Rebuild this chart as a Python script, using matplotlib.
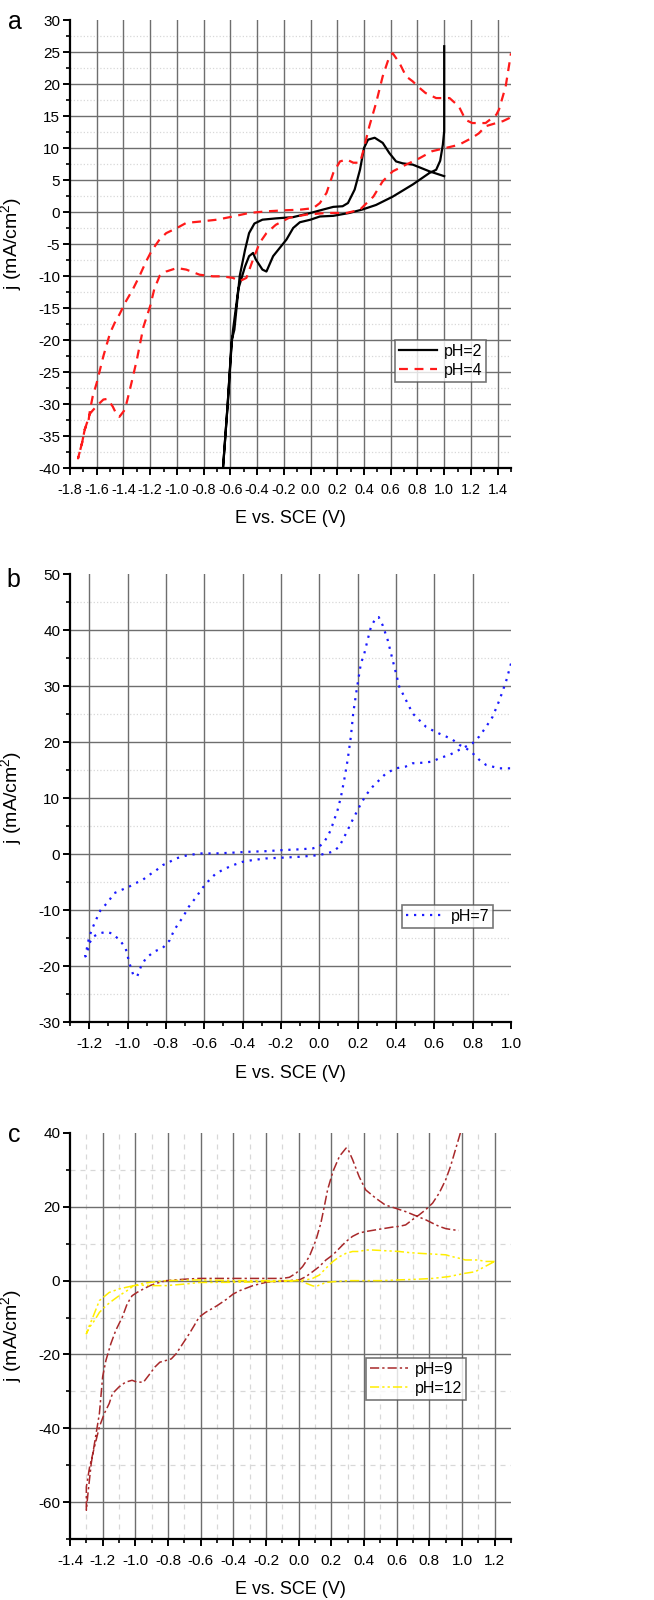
import matplotlib
matplotlib.use("Agg")
import matplotlib.pyplot as plt
import numpy as np
from matplotlib.ticker import MultipleLocator, FormatStrFormatter

plt.rcParams['font.family'] = ['Liberation Sans', 'DejaVu Sans']
plt.rcParams['mathtext.fontset'] = 'custom'
plt.rcParams['mathtext.rm'] = 'Liberation Sans'
plt.rcParams['mathtext.it'] = 'Liberation Sans:italic'

# ---------------- data ----------------
# Panel a, pH=2 (one continuous CV loop)
ph2_E = [1.0, 0.89, 0.765, 0.69, 0.64, 0.59, 0.54, 0.48, 0.43, 0.40, 0.37, 0.33, 0.28, 0.24,
         0.17, 0.09, 0.0, -0.13, -0.26, -0.36, -0.42, -0.46, -0.49, -0.53, -0.57, -0.59,
         -0.62, -0.655, -0.62, -0.59, -0.58, -0.54, -0.49, -0.46, -0.43, -0.41, -0.36, -0.33,
         -0.28, -0.18, -0.13, -0.08, 0.0, 0.07, 0.17, 0.29, 0.39, 0.49, 0.615, 0.765, 0.89,
         0.94, 0.97, 0.99, 1.0, 1.0]
ph2_j = [5.6, 6.35, 7.4, 7.6, 7.9, 9.2, 10.8, 11.6, 11.3, 10.0, 6.6, 3.5, 1.4, 0.9,
         0.8, 0.36, -0.15, -0.8, -1.0, -1.2, -1.8, -3.3, -5.9, -10.0, -18.4, -20.0,
         -30.0, -40.0, -30.0, -20.5, -18.4, -12.0, -8.5, -6.9, -6.4, -7.4, -9.0, -9.3,
         -6.9, -4.3, -2.5, -1.6, -1.2, -0.7, -0.6, -0.15, 0.4, 1.1, 2.4, 4.3, 6.1,
         6.6, 8.0, 10.5, 12.6, 25.9]

# Panel a, pH=4
ph4_E = [1.49, 1.44, 1.39, 1.31, 1.26, 1.21, 1.11, 1.01, 0.91, 0.815, 0.715, 0.615, 0.54,
         0.47, 0.42, 0.37, 0.27, 0.12, -0.03, -0.16, -0.26, -0.33, -0.38, -0.43, -0.48,
         -0.53, -0.58, -0.66, -0.73, -0.83, -0.93, -1.0, -1.08, -1.13, -1.17, -1.20, -1.25,
         -1.30, -1.34, -1.37, -1.39, -1.43, -1.45, -1.48, -1.52, -1.55, -1.59, -1.63, -1.65,
         -1.69, -1.71, -1.74, -1.71, -1.69, -1.66, -1.65, -1.63, -1.60, -1.55, -1.50, -1.465,
         -1.43, -1.38, -1.33, -1.28, -1.23, -1.19, -1.13, -1.08, -1.0, -0.93, -0.83, -0.70,
         -0.58, -0.46, -0.33, -0.20, -0.08, 0.02, 0.07, 0.12, 0.17, 0.22, 0.27, 0.32, 0.37,
         0.39, 0.44, 0.49, 0.54, 0.59, 0.615, 0.665, 0.715, 0.765, 0.815, 0.86, 0.94, 1.04,
         1.11, 1.16, 1.21, 1.31, 1.39, 1.41, 1.46, 1.50]
ph4_j = [14.7, 14.2, 13.9, 13.4, 12.3, 11.6, 10.5, 10.0, 9.5, 8.4, 7.4, 6.35, 4.8,
         2.4, 1.4, 0.36, -0.15, -0.15, -0.4, -0.9, -2.0, -3.3, -4.8, -7.4, -10.3,
         -10.8, -10.3, -10.05, -10.05, -9.8, -9.0, -8.75, -9.3, -10.0, -12.1, -14.7, -17.9,
         -23.1, -26.7, -29.3, -30.9, -32.0, -31.7, -30.4, -29.2, -29.3, -30.1, -31.0, -31.5,
         -34.0, -36.1, -38.5, -36.1, -34.0, -32.4, -30.9, -28.8, -26.7, -22.5, -18.9, -17.3,
         -16.0, -13.9, -12.1, -10.0, -7.7, -6.1, -4.3, -3.3, -2.5, -1.7, -1.5, -1.2,
         -0.7, -0.15, 0.1, 0.26, 0.36, 0.6, 1.4, 3.0, 6.1, 7.9, 8.2, 7.7, 7.7,
         9.2, 13.4, 17.0, 21.2, 24.3, 24.8, 23.3, 21.2, 20.4, 19.4, 18.6, 17.8, 17.8,
         16.5, 14.4, 13.9, 13.9, 15.2, 16.0, 19.6, 24.8]

# Panel b, pH=7
ph7_E = [1.0, 0.974, 0.94, 0.904, 0.87, 0.835, 0.8, 0.765, 0.73, 0.68, 0.626, 0.59, 0.54,
         0.487, 0.45, 0.40, 0.348, 0.313, 0.278, 0.243, 0.21, 0.174, 0.14, 0.104, 0.07,
         0.035, 0.0, -0.104, -0.19, -0.28, -0.35, -0.40, -0.45, -0.49, -0.54, -0.58, -0.61,
         -0.64, -0.68, -0.71, -0.757, -0.78, -0.817, -0.86, -0.904, -0.93, -0.95, -0.97,
         -0.99, -1.01, -1.04, -1.08, -1.11, -1.15, -1.18, -1.20, -1.21, -1.22, -1.21, -1.20,
         -1.18, -1.165, -1.14, -1.10, -1.07, -1.03, -0.99, -0.957, -0.92, -0.887, -0.85,
         -0.817, -0.78, -0.748, -0.696, -0.626, -0.54, -0.45, -0.365, -0.28, -0.19, -0.104,
         -0.035, 0.0, 0.026, 0.043, 0.06, 0.078, 0.096, 0.113, 0.13, 0.148, 0.165, 0.177,
         0.195, 0.217, 0.235, 0.252, 0.27, 0.296, 0.31, 0.33, 0.357, 0.383, 0.40, 0.417,
         0.452, 0.487, 0.522, 0.557, 0.59, 0.626, 0.66, 0.696, 0.73, 0.765, 0.80, 0.835,
         0.87, 0.904, 0.94, 0.974, 1.0]
ph7_j = [34.0, 30.8, 27.5, 24.5, 22.7, 21.0, 19.8, 19.2, 18.6, 17.7, 17.1, 16.5, 16.3,
         16.2, 15.6, 15.3, 14.4, 13.2, 12.0, 10.5, 8.5, 6.1, 3.7, 1.3, 0.4,
         0.1, -0.2, -0.5, -0.65, -0.8, -1.1, -1.4, -2.0, -2.6, -3.5, -4.9, -6.1,
         -7.6, -9.4, -11.2, -13.6, -15.4, -16.8, -17.4, -18.6, -20.1, -21.9, -21.6,
         -19.5, -16.8, -15.4, -14.2, -13.9, -14.2, -14.8, -16.0, -17.7, -18.3, -16.5, -14.8,
         -13.0, -11.8, -10.0, -8.5, -7.0, -6.4, -5.8, -5.2, -4.6, -3.75, -2.9,
         -2.0, -1.4, -0.8, -0.3, 0.1, 0.1, 0.24, 0.4, 0.5, 0.7, 0.83,
         1.0, 1.3, 2.2, 3.1, 4.3, 6.1, 7.9, 10.2, 13.2, 16.8, 21.0, 25.1,
         29.3, 34.0, 35.8, 38.2, 40.6, 42.2, 42.3, 40.9, 38.2, 34.6, 32.3, 29.9,
         27.5, 25.1, 23.9, 22.7, 22.1, 21.5, 21.0, 20.4, 19.5, 18.9, 18.0, 16.8,
         15.9, 15.6, 15.3, 15.3, 15.3]

# Panel c, pH=9
ph9_E = [0.99, 0.96, 0.93, 0.90, 0.86, 0.82, 0.777, 0.737, 0.696, 0.655, 0.615, 0.574, 0.533,
         0.49, 0.45, 0.41, 0.37, 0.33, 0.29, 0.25, 0.21, 0.167, 0.126, 0.085, 0.045, 0.004,
         -0.1, -0.2, -0.28, -0.36, -0.40, -0.44, -0.50, -0.57, -0.61, -0.64, -0.67, -0.71,
         -0.75, -0.78, -0.81, -0.85, -0.88, -0.91, -0.95, -0.99, -1.02, -1.06, -1.10, -1.14,
         -1.16, -1.19, -1.22, -1.25, -1.28, -1.30, -1.30, -1.29, -1.27, -1.25, -1.22, -1.20,
         -1.18, -1.15, -1.12, -1.08, -1.05, -1.02, -0.99, -0.95, -0.91, -0.87, -0.81, -0.71,
         -0.61, -0.40, -0.20, -0.10, -0.057, -0.016, 0.024, 0.065, 0.106, 0.136, 0.157,
         0.177, 0.21, 0.25, 0.29, 0.30, 0.33, 0.37, 0.41, 0.47, 0.53, 0.594, 0.655,
         0.716, 0.777, 0.818, 0.86, 0.90, 0.94, 0.98]
ph9_j = [40.0, 35.5, 31.0, 27.3, 23.7, 21.0, 19.2, 17.8, 16.5, 15.1, 14.7, 14.5, 14.2,
         13.9, 13.6, 13.3, 12.9, 12.0, 10.6, 8.8, 7.0, 5.6, 3.8, 2.4, 1.1, 0.2,
         -0.1, -0.45, -1.35, -2.7, -3.6, -5.0, -6.8, -8.6, -9.9, -12.2, -14.4, -17.1,
         -19.8, -21.2, -21.6, -22.1, -23.4, -25.2, -27.5, -27.5, -27.0, -27.5, -28.8, -30.6,
         -33.3, -36.0, -39.6, -45.0, -50.5, -55.9, -62.2, -57.7, -49.5, -44.1, -36.0, -26.0,
         -21.6, -17.1, -13.5, -9.9, -6.3, -4.1, -3.2, -2.25, -1.35, -0.7, 0.0, 0.36,
         0.6, 0.6, 0.6, 0.6, 0.9, 2.0, 3.8, 6.5, 11.0, 15.6, 20.1,
         24.6, 29.6, 33.7, 35.9, 35.8, 32.8, 28.2, 24.6, 22.4, 20.5, 19.6, 18.7,
         17.6, 16.5, 15.6, 14.7, 14.1, 13.8, 13.6]

# Panel c, pH=12
ph12_E = [1.2, 1.14, 1.10, 1.02, 0.98, 0.94, 0.90, 0.82, 0.74, 0.676, 0.615, 0.533, 0.45,
          0.41, 0.37, 0.33, 0.29, 0.25, 0.21, 0.167, 0.126, 0.085, 0.045, 0.0, -0.2, -0.4,
          -0.61, -0.69, -0.81, -0.89, -0.97, -1.01, -1.05, -1.10, -1.14, -1.18, -1.22, -1.25,
          -1.28, -1.30, -1.29, -1.26, -1.22, -1.16, -1.10, -1.01, -0.95, -0.87, -0.81, -0.61,
          -0.40, -0.20, -0.04, 0.0, 0.045, 0.085, 0.106, 0.126, 0.167, 0.21, 0.31, 0.41,
          0.51, 0.615, 0.716, 0.82, 0.92, 1.02, 1.08, 1.14, 1.2]
ph12_j = [5.2, 5.2, 5.6, 5.6, 6.1, 6.5, 7.0, 7.2, 7.4, 7.6, 7.9, 8.1, 8.3,
          8.3, 7.9, 7.9, 7.4, 6.5, 5.2, 3.35, 1.5, 0.6, 0.2, 0.0, -0.3, -0.45,
          -0.5, -0.9, -1.35, -1.35, -1.2, -1.35, -2.7, -4.1, -5.4, -6.8, -8.6, -10.8,
          -12.6, -14.4, -13.1, -9.9, -5.4, -3.2, -2.25, -1.35, -0.7, -0.27, 0.0, 0.2,
          0.0, 0.0, 0.0, 0.2, -0.7, -1.4, -1.6, -1.2, -0.5, -0.3, 0.0, 0.0,
          0.0, 0.2, 0.36, 0.6, 1.1, 2.0, 2.4, 3.8, 5.2]

xlabel = "E vs. SCE (V)"
ylabel = "j (mA/cm$^2$)"

# ---------------- figure ----------------
W, H = 654, 1600
fig = plt.figure(figsize=(W / 100, H / 100), dpi=100)


def px_axes(x0, y0, x1, y1):
    return fig.add_axes([x0 / W, 1 - y1 / H, (x1 - x0) / W, (y1 - y0) / H])


MAJ = '#6e6e6e'
MIN = '#d8d8d8'
TICK_FS = 11


def style(ax, xlim, ylim, xmaj, xmin_, ymaj, ymin_, xgrid, ygrid, yminor_grid,
          xminor_grid=None, minor_ls=':', xlabpad=10):
    ax.set_xlim(*xlim)
    ax.set_ylim(*ylim)
    for s in ['top', 'right']:
        ax.spines[s].set_visible(False)
    for s in ['left', 'bottom']:
        ax.spines[s].set_linewidth(1.6)
    ax.xaxis.set_major_locator(MultipleLocator(xmaj))
    ax.xaxis.set_minor_locator(MultipleLocator(xmin_))
    ax.yaxis.set_major_locator(MultipleLocator(ymaj))
    ax.yaxis.set_minor_locator(MultipleLocator(ymin_))
    ax.xaxis.set_major_formatter(FormatStrFormatter('%.1f'))
    ax.yaxis.set_major_formatter(FormatStrFormatter('%d'))
    ax.tick_params(which='major', direction='out', length=5, width=1.4, labelsize=TICK_FS)
    ax.tick_params(which='minor', direction='out', length=3, width=1.2)
    ax.tick_params(axis='x', which='major', pad=6)
    ax.tick_params(axis='y', which='major', pad=2)
    for v in yminor_grid:
        ax.axhline(v, color=MIN, lw=0.9, ls=minor_ls, zorder=0)
    if xminor_grid is not None:
        for v in xminor_grid:
            ax.axvline(v, color=MIN, lw=0.9, ls=minor_ls, zorder=0)
    for v in xgrid:
        ax.axvline(v, color=MAJ, lw=1.0, zorder=0.5)
    for v in ygrid:
        ax.axhline(v, color=MAJ, lw=1.0, zorder=0.5)
    ax.set_xlabel(xlabel, fontsize=13, labelpad=xlabpad)
    ax.set_ylabel(ylabel, fontsize=14)


def legend(ax, fx, fy):
    leg = ax.legend(loc='upper left', bbox_to_anchor=(fx, fy),
                    fontsize=11.5, frameon=True, fancybox=False, edgecolor='#555555',
                    handlelength=2.4, handletextpad=0.4, borderpad=0.25, labelspacing=0.25,
                    borderaxespad=0)
    leg.get_frame().set_linewidth(1.2)
    return leg


# ---- panel a ----
axa = px_axes(70, 20, 511, 468)
style(axa, (-1.8, 1.5), (-40, 30), 0.2, 0.1, 5, 2.5,
      xgrid=np.arange(-1.6, 1.45, 0.2), ygrid=np.arange(-35, 26, 5),
      yminor_grid=np.arange(-37.5, 28, 5), xlabpad=9)
axa.tick_params(axis='x', which='major', labelsize=10.4)
axa.plot(ph2_E, ph2_j, color='black', lw=1.6, label='pH=2', zorder=3)
axa.plot(ph4_E, ph4_j, color='#ff1a1a', lw=1.6, ls=(0, (4, 3)), label='pH=4', zorder=3)
legend(axa, (395 - 70) / 441, 1 - (340 - 20) / 448)
fig.text(15 / W, 1 - 22 / H, 'a', fontsize=18, ha='center', va='center')

# ---- panel b ----
axb = px_axes(70, 574, 511, 1022)
style(axb, (-1.3, 1.0), (-30, 50), 0.2, 0.1, 10, 5,
      xgrid=np.arange(-1.2, 0.85, 0.2), ygrid=np.arange(-20, 41, 10),
      yminor_grid=np.arange(-25, 46, 10), xlabpad=10)
axb.plot(ph7_E, ph7_j, color='#1a1aff', lw=1.6, ls=(0, (1, 2.6)), label='pH=7', zorder=3)
legend(axb, (402 - 70) / 441, 1 - (905 - 574) / 448)
fig.text(13 / W, 1 - 580 / H, 'b', fontsize=18, ha='center', va='center')

# ---- panel c ----
axc = px_axes(70, 1133, 511, 1539)
style(axc, (-1.4, 1.3), (-70, 40), 0.2, 0.1, 20, 10,
      xgrid=np.arange(-1.2, 1.25, 0.2), ygrid=np.arange(-60, 21, 20),
      yminor_grid=np.arange(-50, 31, 20),
      xminor_grid=np.arange(-1.3, 1.3, 0.2), minor_ls=(0, (4, 4)), xlabpad=9)
axc.plot(ph9_E, ph9_j, color='#a8282a', lw=1.1, ls=(0, (6, 2, 1.5, 2)), label='pH=9', zorder=3)
axc.plot(ph12_E, ph12_j, color='#ffee00', lw=1.1, ls=(0, (6, 2, 1.5, 2, 1.5, 2)),
         label='pH=12', zorder=3)
legend(axc, (366 - 70) / 441, 1 - (1358 - 1133) / 406)
fig.text(14 / W, 1 - 1135 / H, 'c', fontsize=18, ha='center', va='center')

for ax in (axa, axb, axc):
    ax.yaxis.set_label_coords(-46 / 441, 0.5)

fig.savefig('out.png', dpi=100)
